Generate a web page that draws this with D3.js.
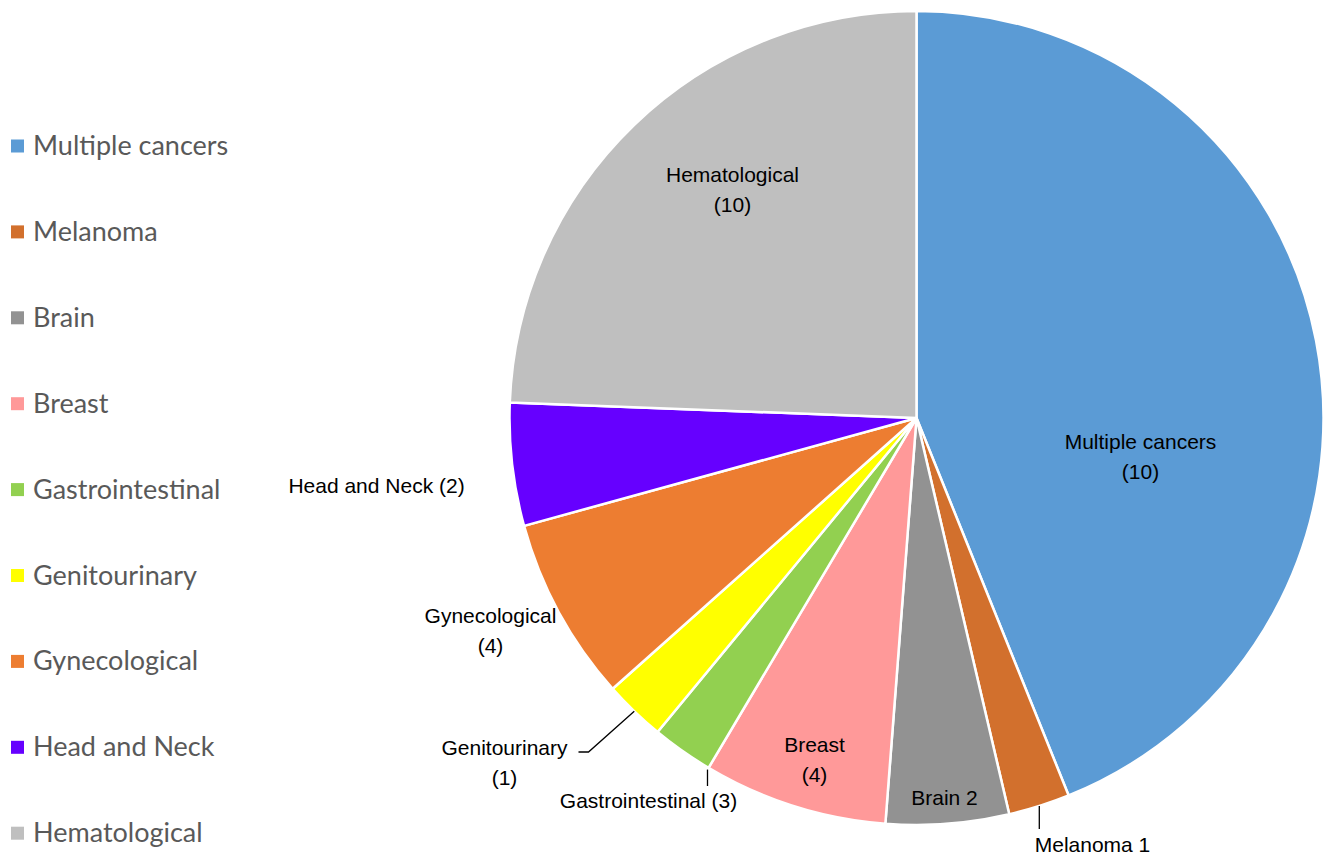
<!DOCTYPE html>
<html>
<head>
<meta charset="utf-8">
<script src="https://cdn.jsdelivr.net/npm/d3@7"></script>
<style>
  html, body { margin: 0; padding: 0; background: #fff; }
  svg { display: block; font-family: Lato, "Liberation Sans", Arial, sans-serif; }
</style>
</head>
<body>
<div class="chart"></div>
<script>
////////// DATA //////////

const categories = ["Multiple cancers", "Melanoma", "Brain", "Breast", "Gastrointestinal",
  "Genitourinary", "Gynecological", "Head and Neck", "Hematological"];
const values = [18, 1, 2, 3, 1, 1, 3, 2, 10];
const colours = ["#5B9BD5", "#D2702D", "#929292", "#FF9999", "#92D050",
  "#FFFF00", "#ED7D31", "#6600FF", "#BFBFBF"];
// data label text as printed on the chart
const labelText = [["Multiple cancers", "(10)"], ["Melanoma 1"], ["Brain 2"], ["Breast", "(4)"],
  ["Gastrointestinal (3)"], ["Genitourinary", "(1)"], ["Gynecological", "(4)"],
  ["Head and Neck (2)"], ["Hematological", "(10)"]];


////////// SETUP //////////

const width = 1323, height = 855;
const cx = 916.5, cy = 418, radius = 407;

const data = categories.map((c, i) => ({ name: c, value: values[i], colour: colours[i], label: labelText[i] }));

// label placement, offsets from pie centre (first baseline, text centre)
const labelPos = {
  "Multiple cancers": [224, 31],
  "Melanoma": [176, 434],
  "Brain": [28, 387],
  "Breast": [-102, 334],
  "Gastrointestinal": [-268, 390],
  "Genitourinary": [-412, 337],
  "Gynecological": [-426, 205],
  "Head and Neck": [-540, 75],
  "Hematological": [-184, -236]
};

let svg = d3.select(".chart")
  .append("svg")
  .attr("width", width)
  .attr("height", height);


////////// PIE //////////

let pie = d3.pie()
  .sort(null)
  .value(d => d.value);

let arc = d3.arc()
  .innerRadius(0)
  .outerRadius(radius);

let arcs = pie(data);

let g = svg.append("g")
  .attr("transform", "translate(" + cx + "," + cy + ")");

g.selectAll("path.slice")
  .data(arcs)
  .enter()
  .append("path")
  .attr("class", "slice")
  .attr("d", arc)
  .attr("fill", d => d.data.colour)
  .attr("stroke", "#fff")
  .attr("stroke-width", 2.5)
  .attr("stroke-linejoin", "round");


////////// LEADER LINES //////////

function edgePoint(a, r) {
  return [Math.sin(a) * r, -Math.cos(a) * r];
}

let leaders = g.append("g").attr("class", "leaders")
  .attr("fill", "none")
  .attr("stroke", "#000")
  .attr("stroke-width", 1.3);

arcs.forEach(d => {
  let n = d.data.name;
  if (n === "Genitourinary") {
    let p = edgePoint((d.startAngle + d.endAngle) / 2, radius);
    let lp = labelPos[n];
    leaders.append("path")
      .attr("d", d3.line()([p, [lp[0] + 84, lp[1] - 3], [lp[0] + 74, lp[1] - 3]]));
  } else if (n === "Gastrointestinal") {
    let p = edgePoint(d.startAngle, radius + 2);
    leaders.append("path")
      .attr("d", d3.line()([p, [p[0], labelPos[n][1] - 22]]));
  } else if (n === "Melanoma") {
    let p = edgePoint((d.startAngle + d.endAngle) / 2, radius);
    leaders.append("path")
      .attr("d", d3.line()([p, [p[0], labelPos[n][1] - 23]]));
  }
});


////////// DATA LABELS //////////

let labels = g.selectAll("text.lbl")
  .data(arcs)
  .enter()
  .append("text")
  .attr("class", "lbl")
  .attr("text-anchor", "middle")
  .attr("font-family", "'Liberation Sans', Arial, sans-serif")
  .attr("font-size", 21)
  .attr("fill", "#000")
  .attr("transform", d => "translate(" + labelPos[d.data.name][0] + "," + labelPos[d.data.name][1] + ")");

labels.selectAll("tspan")
  .data(d => d.data.label)
  .enter()
  .append("tspan")
  .attr("x", 0)
  .attr("y", (t, i) => i * 30)
  .text(t => t);


////////// LEGEND //////////

let legend = svg.append("g")
  .attr("class", "legend")
  .attr("transform", "translate(0,146)");

let step = 85.9;

let item = legend.selectAll("g")
  .data(data)
  .enter()
  .append("g")
  .attr("transform", (d, i) => "translate(0," + (i * step) + ")");

item.append("rect")
  .attr("x", 11)
  .attr("y", -6.5)
  .attr("width", 13)
  .attr("height", 13)
  .attr("fill", d => d.colour);

item.append("text")
  .attr("x", 33)
  .attr("y", 9)
  .attr("font-size", 27)
  .attr("fill", "#595959")
  .text(d => d.name);
</script>
</body>
</html>
